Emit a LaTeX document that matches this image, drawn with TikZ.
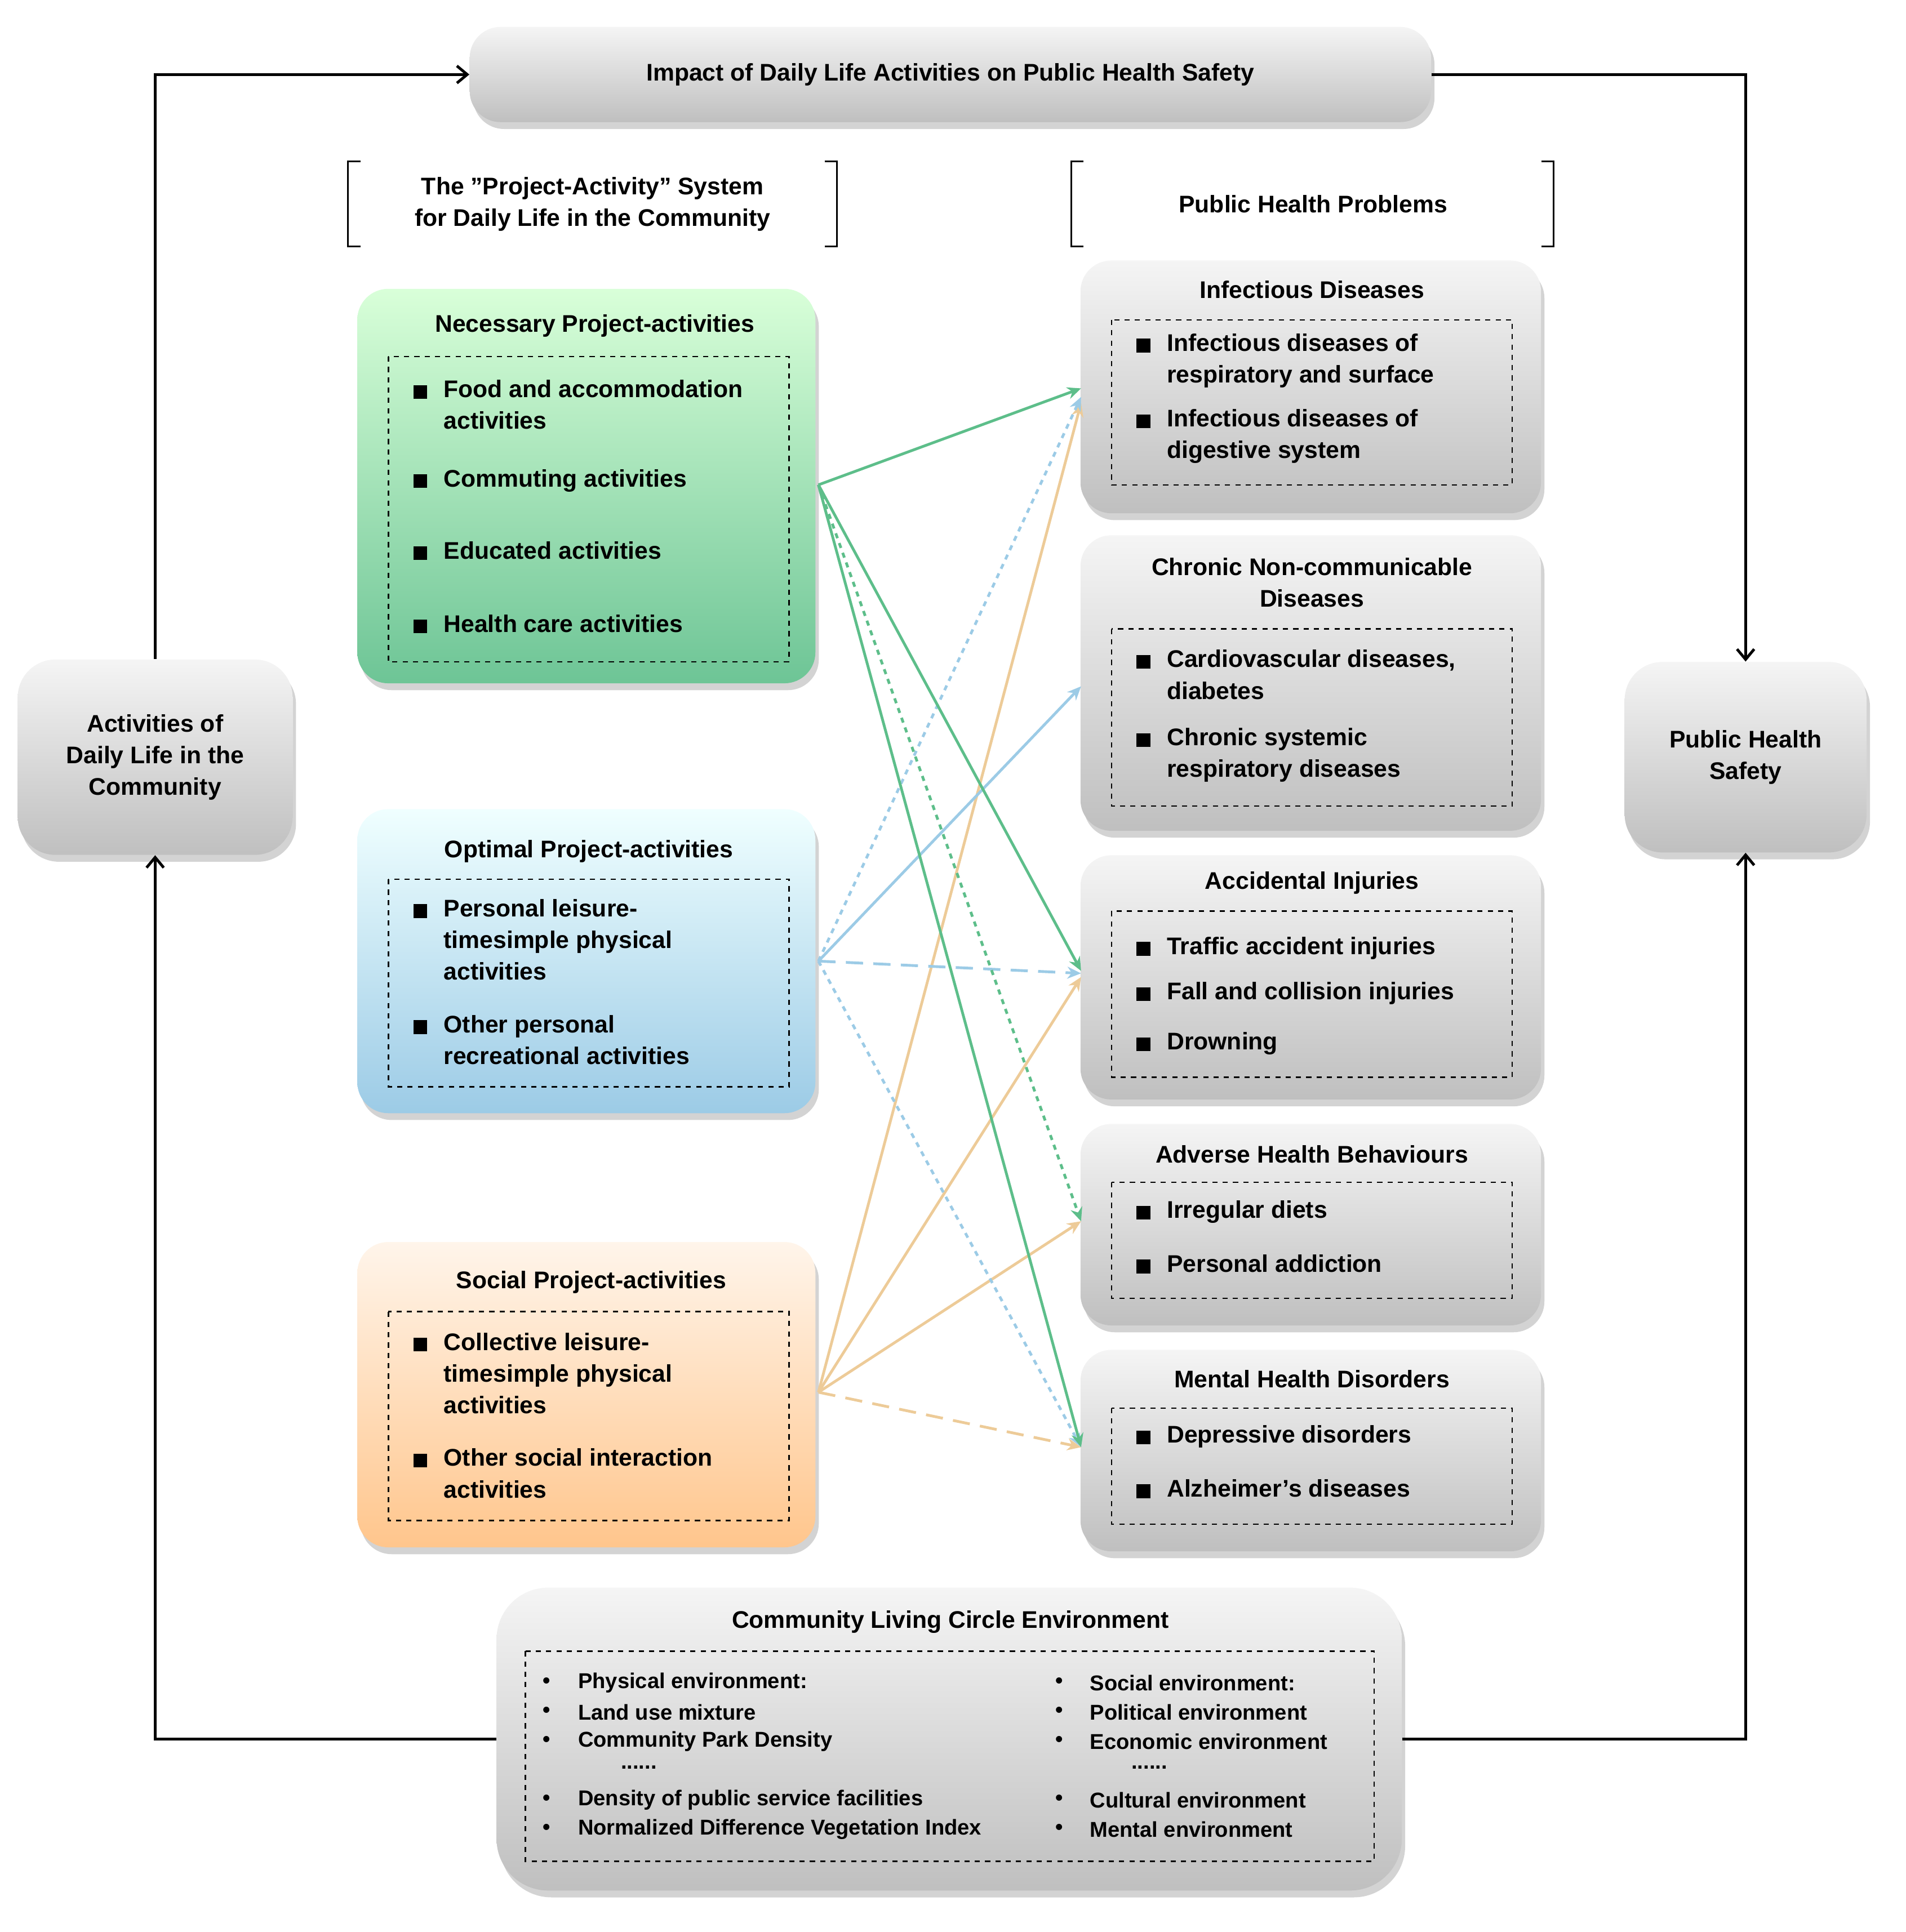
\documentclass[tikz,border=0pt]{standalone}
\usepackage{fontspec}
\setmainfont{Liberation Sans}
\usetikzlibrary{shadows,arrows.meta}
\definecolor{gA}{HTML}{5DBE8A}\definecolor{bA}{HTML}{9CCBE6}\definecolor{oA}{HTML}{EDCB98}
\tikzset{
 box/.style={draw=none,rounded corners=18pt,drop shadow={shadow xshift=2pt,shadow yshift=-4pt,opacity=.35},inner sep=0},
 gray/.style={box,top color=gray!8,bottom color=gray!50},
 inner/.style={draw,dashed,line width=0.8pt},
 t/.style={font=\bfseries\fontsize{14}{18.4}\selectfont,align=center,inner sep=0},
 it/.style={font=\bfseries\fontsize{14}{18.4}\selectfont,align=left,anchor=north west,inner sep=0},
 sm/.style={font=\bfseries\fontsize{12.5}{17}\selectfont,align=left,anchor=west,inner sep=0},
 sq/.style={fill=black,minimum size=8pt,inner sep=0},
 main/.style={line width=1.6pt,-{Straight Barb[length=6pt,width=10pt]}},
 ca/.style={line width=1.6pt,-{Stealth[length=8pt,width=7pt]}}
}
\newcommand{\bx}[4]{\path (#1,#2) coordinate (a#1#2) (#3,#4) coordinate (b#1#2);}
\begin{document}
\begin{tikzpicture}[x=0.025cm,y=-0.025cm]
\useasboundingbox (0,0) rectangle (1560,1582);
% main boxes
\node[gray,minimum width=787*0.025cm,minimum height=78*0.025cm] (top) at (778,61) {};
\node[t] at (top) {Impact of Daily Life Activities on Public Health Safety};
\node[gray,minimum width=225*0.025cm,minimum height=160*0.025cm,rounded corners=22pt] (adl) at (127,620) {};
\node[t] at (adl) {Activities of\\Daily Life in the\\Community};
\node[gray,minimum width=198*0.025cm,minimum height=156*0.025cm,rounded corners=22pt] (phs) at (1429,620) {};
\node[t] at (phs) {Public Health\\Safety};
\node[gray,minimum width=741*0.025cm,minimum height=248*0.025cm,rounded corners=30pt] (env) at (777,1424) {};
% brackets
\draw[line width=1pt] (295,132)--(285,132)--(285,202)--(295,202) (675,132)--(685,132)--(685,202)--(675,202);
\node[t] (lb) at (485,167) {The "Project-Activity" System\\for Daily Life in the Community};
\draw[line width=1pt] (887,132)--(877,132)--(877,202)--(887,202) (1262,132)--(1272,132)--(1272,202)--(1262,202);
\node[t] (rb) at (1075,167) {Public Health Problems};
% left boxes
\node[box,top color=green!15!white,bottom color=gA!90,minimum width=375*0.025cm,minimum height=323*0.025cm] (nec) at (480,398) {};
\node[box,top color=cyan!6!white,bottom color=bA,minimum width=375*0.025cm,minimum height=249*0.025cm] (opt) at (480,787) {};
\node[box,top color=orange!8!white,bottom color=orange!45!white,minimum width=375*0.025cm,minimum height=250*0.025cm] (soc) at (480,1142) {};
\foreach \y/\h in {213/207,438/242,700/200,920/165,1105/165}
  \node[gray,minimum width=377*0.025cm,minimum height=\h*0.025cm,anchor=north] at (1073,\y) {};
% inner dashed boxes
\draw[inner] (318,292) rectangle (646,542);
\draw[inner] (318,720) rectangle (646,890);
\draw[inner] (318,1074) rectangle (646,1245);
\draw[inner] (910,262) rectangle (1238,397);
\draw[inner] (910,515) rectangle (1238,660);
\draw[inner] (910,746) rectangle (1238,882);
\draw[inner] (910,968) rectangle (1238,1063);
\draw[inner] (910,1153) rectangle (1238,1248);
\draw[inner] (430,1352) rectangle (1125,1524);
% titles
\node[t] at (487,267) {Necessary Project-activities};
\node[t] at (482,697) {Optimal Project-activities};
\node[t] at (484,1050) {Social Project-activities};
\node[t] at (1074,237) {Infectious Diseases};
\node[t] at (1074,477) {Chronic Non-communicable\\Diseases};
\node[t] at (1074,723) {Accidental Injuries};
\node[t] at (1074,945) {Adverse Health Behaviours};
\node[t] at (1074,1129) {Mental Health Disorders};
\node[t] at (778,1328) {Community Living Circle Environment};
% items left
\foreach \y/\s in {321/{Food and accommodation\\activities},394/{Commuting activities},453/{Educated activities},513/{Health care activities},
 746/{Personal leisure-\\timesimple physical\\activities},841/{Other personal\\recreational activities},
 1101/{Collective leisure-\\timesimple physical\\activities},1196/{Other social interaction\\activities}}
 {\node[sq] at (344,\y) {}; \node[it] at (363,\y-10) {\s};}
\foreach \y/\s in {283/{Infectious diseases of\\respiratory and surface},345/{Infectious diseases of\\digestive system},
 542/{Cardiovascular diseases,\\diabetes},606/{Chronic systemic\\respiratory diseases},
 777/{Traffic accident injuries},814/{Fall and collision injuries},855/{Drowning},
 993/{Irregular diets},1037/{Personal addiction},1177/{Depressive disorders},1221/{Alzheimer's diseases}}
 {\node[sq] at (936,\y) {}; \node[it] at (955,\y-10) {\s};}
% env items
\foreach \y/\s in {1378/{Physical environment:},1402/{Land use mixture},1426/{Community Park Density},1474/{Density of public service facilities},1498/{Normalized Difference Vegetation Index}}
 {\node[sm] at (444,\y) {•}; \node[sm] at (473,\y) {\s};}
\foreach \y/\s in {1378/{Social environment:},1402/{Political environment},1426/{Economic environment},1474/{Cultural environment},1498/{Mental environment}}
 {\node[sm] at (864,\y) {•}; \node[sm] at (892,\y) {\s};}
\node[sm] at (508,1447) {......};
\node[sm] at (926,1447) {......};
% frame arrows
\draw[main] (adl.north) |- (top.west);
\draw[main] (top.east) -| (phs.north);
\draw[main] (env.west) -| (adl.south);
\draw[main] (env.east) -| (phs.south);
% colored connectors
\coordinate (gs) at (670,397); \coordinate (bs) at (670,787); \coordinate (os) at (670,1140);
\coordinate (i1) at (885,318); \coordinate (i2) at (885,325); \coordinate (i3) at (885,330);
\coordinate (c1) at (885,562);
\coordinate (a1) at (885,795); \coordinate (a2) at (885,797); \coordinate (a3) at (885,800);
\coordinate (d1) at (885,1000);
\coordinate (m1) at (885,1185);
\draw[ca,oA] (os)--(i3); \draw[ca,oA] (os)--(a3); \draw[ca,oA] (os)--(d1); \draw[ca,oA,dashed,dash pattern=on 10pt off 6pt] (os)--(m1);
\draw[ca,bA,dashed] (bs)--(i2); \draw[ca,bA] (bs)--(c1); \draw[ca,bA,dashed,dash pattern=on 10pt off 6pt] (bs)--(a2); \draw[ca,bA,dashed] (bs)--(m1);
\draw[ca,gA] (gs)--(i1); \draw[ca,gA] (gs)--(a1); \draw[ca,gA,dashed] (gs)--(d1); \draw[ca,gA] (gs)--(m1);
\end{tikzpicture}
\end{document}
